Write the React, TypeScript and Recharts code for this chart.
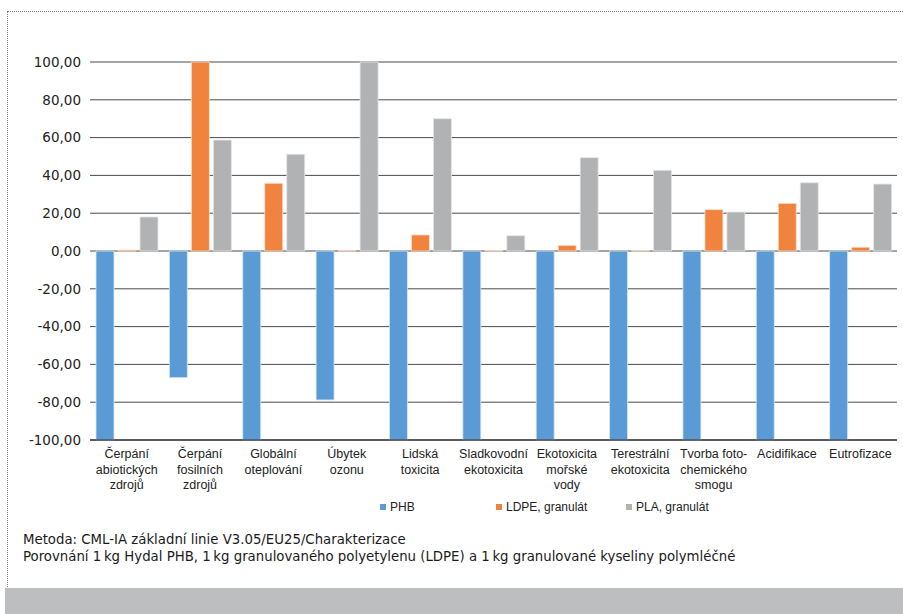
import React from 'react';
import { BarChart, Bar, XAxis, YAxis, CartesianGrid } from 'recharts';

const categories = [
  'Čerpání\nabiotických\nzdrojů',
  'Čerpání\nfosilních\nzdrojů',
  'Globální\noteplování',
  'Úbytek\nozonu',
  'Lidská\ntoxicita',
  'Sladkovodní\nekotoxicita',
  'Ekotoxicita\nmořské\nvody',
  'Terestrální\nekotoxicita',
  'Tvorba foto-\nchemického\nsmogu',
  'Acidifikace',
  'Eutrofizace',
];

const phb = [-100, -67, -100, -78.8, -100, -100, -100, -100, -100, -100, -100];
const ldpe = [0.5, 100, 35.8, 0.2, 8.5, 0.2, 3.0, 0.2, 21.9, 25.2, 2.0];
const pla = [18.0, 58.7, 51.2, 100, 70.0, 8.1, 49.4, 42.7, 20.6, 36.1, 35.4];

const yTicks = [-100, -80, -60, -40, -20, 0, 20, 40, 60, 80, 100];

const seriesNames = ['PHB', 'LDPE, granulát', 'PLA, granulát'];
const colors = ['#5B9BD5', '#F0843E', '#B1B2B4'];

const notes = [
  'Metoda: CML-IA základní linie V3.05/EU25/Charakterizace',
  'Porovnání 1\u202Fkg Hydal PHB, 1\u202Fkg granulovaného polyetylenu (LDPE) a 1\u202Fkg granulované kyseliny polymléčné',
];

const data = categories.map((name, i) => ({
  name,
  phb: phb[i],
  ldpe: ldpe[i],
  pla: pla[i],
}));

const fmt = (v: number) => v.toFixed(2).replace('.', ',');

const CategoryTick = (props: any) => {
  const { x, y, payload } = props;
  const lines = String(payload.value).split('\n');
  return (
    <text
      x={x}
      y={y}
      textAnchor="middle"
      fontFamily="'Liberation Sans', Arial, sans-serif"
      fontSize={12.5}
      fill="#222"
    >
      {lines.map((l, i) => (
        <tspan key={i} x={x} dy={i === 0 ? 16 : 15.5}>
          {l}
        </tspan>
      ))}
    </text>
  );
};

export default function App() {
  return (
    <div
      style={{
        position: 'absolute',
        left: 0,
        top: 0,
        width: 903,
        height: 614,
        background: '#fff',
        overflow: 'hidden',
      }}
    >
      {/* dotted frame */}
      <div
        style={{
          position: 'absolute',
          left: 7,
          top: 11,
          width: 903,
          height: 577,
          borderTop: '1px dotted #7a7a7a',
          borderLeft: '1px dotted #7a7a7a',
        }}
      />
      <div style={{ position: 'absolute', left: 0, top: 0 }}>
        <BarChart
          width={903}
          height={500}
          data={data}
          margin={{ top: 62, right: 6, left: 8, bottom: 0 }}
          barSize={18}
          barGap={4}
        >
          <CartesianGrid vertical={false} stroke="#4a4a4a" />
          <XAxis
            dataKey="name"
            height={60}
            interval={0}
            axisLine={{ stroke: '#111' }}
            tickLine={false}
            tickSize={0}
            tick={<CategoryTick />}
          />
          <YAxis
            width={82}
            domain={[-100, 100]}
            ticks={yTicks}
            tickFormatter={fmt}
            axisLine={false}
            tickLine={false}
            tickSize={0}
            tickMargin={9}
            tick={{ fontFamily: "'DejaVu Sans', sans-serif", fontSize: 13.5, fill: '#222' }}
          />
          <Bar dataKey="phb" name={seriesNames[0]} fill={colors[0]} stroke="#dbe8f4" strokeWidth={0.8} isAnimationActive={false} />
          <Bar dataKey="ldpe" name={seriesNames[1]} fill={colors[1]} stroke="#fbe0ce" strokeWidth={0.8} isAnimationActive={false} />
          <Bar dataKey="pla" name={seriesNames[2]} fill={colors[2]} stroke="#e6e6e7" strokeWidth={0.8} isAnimationActive={false} />
        </BarChart>
      </div>

      {/* legend */}
      {[380, 496, 626].map((lx, i) => (
        <div
          key={seriesNames[i]}
          style={{
            position: 'absolute',
            left: lx,
            top: 500,
            display: 'flex',
            alignItems: 'center',
            gap: 4,
            fontFamily: "'Liberation Sans', Arial, sans-serif",
            fontSize: 12,
            color: '#222',
            whiteSpace: 'nowrap',
          }}
        >
          <span style={{ width: 6, height: 6, background: colors[i], display: 'inline-block' }} />
          {seriesNames[i]}
        </div>
      ))}

      {/* notes under the chart */}
      <div
        style={{
          position: 'absolute',
          left: 23,
          top: 531,
          fontFamily: "'DejaVu Sans', sans-serif",
          fontSize: 13.3,
          lineHeight: '17px',
          color: '#1a1a1a',
          whiteSpace: 'nowrap',
        }}
      >
        {notes.map((n) => (
          <div key={n}>{n}</div>
        ))}
      </div>

      <div
        style={{
          position: 'absolute',
          left: 5,
          top: 588,
          width: 898,
          height: 26,
          background: '#BDBEC0',
        }}
      />
    </div>
  );
}
